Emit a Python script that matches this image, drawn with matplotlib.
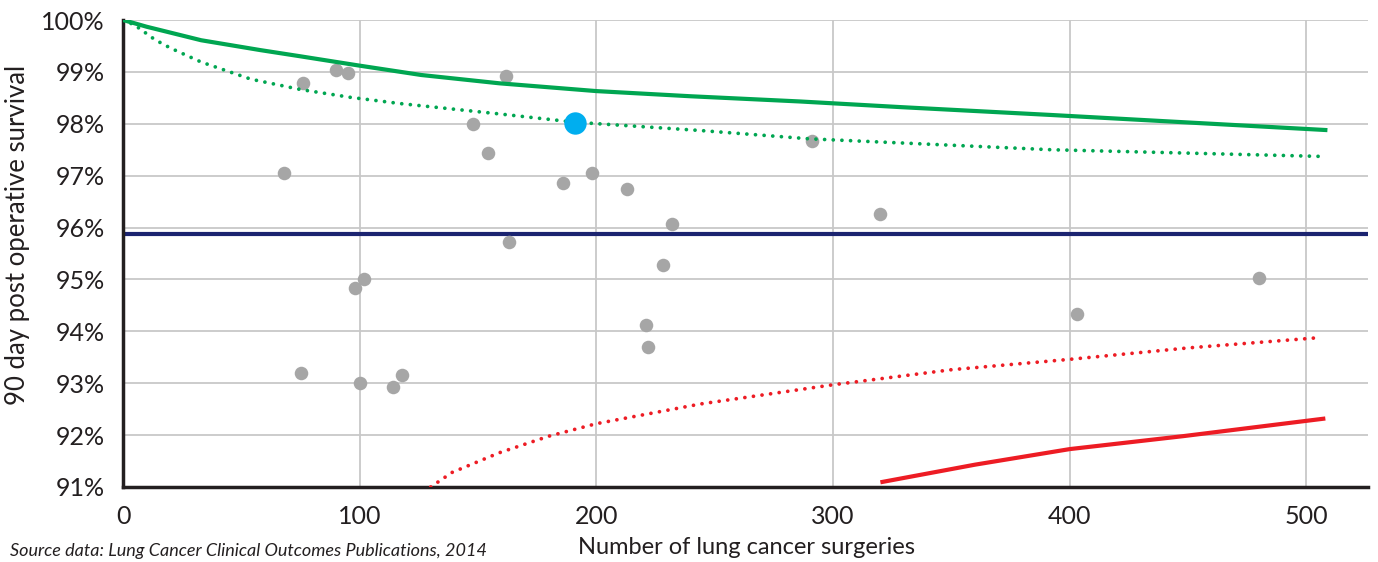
import matplotlib
matplotlib.use("Agg")
import matplotlib.pyplot as plt
from matplotlib.ticker import PercentFormatter

plt.rcParams["font.family"] = ["Lato", "DejaVu Sans"]

# hospitals: number of surgeries vs 90 day survival (%)
surgeries = [68, 76, 90, 95, 75, 98, 102, 100, 114, 118, 148, 154, 162, 163,
             186, 198, 213, 232, 228, 221, 222, 291, 320, 403, 480]
survival = [97.05, 98.78, 99.03, 98.97, 93.2, 94.83, 95.01, 93.0, 92.92, 93.15,
            97.99, 97.44, 98.93, 95.72, 96.86, 97.05, 96.74, 96.07, 95.27, 94.13,
            93.7, 97.67, 96.27, 94.33, 95.02]

# highlighted hospital
hl_surgeries = [191]
hl_survival = [98.02]

national_mean = 95.88

# control limits
upper998_x = [0, 10, 33, 58, 75, 100, 126, 159, 200, 240, 286, 329, 392, 476, 508]
upper998_y = [100, 99.87, 99.61, 99.42, 99.3, 99.12, 98.94, 98.78, 98.63, 98.53,
              98.43, 98.32, 98.17, 97.96, 97.88]

upper95_x = [0, 5, 13.5, 20, 33, 54, 75, 96, 117, 159, 191, 244, 290, 329, 392, 507]
upper95_y = [100, 99.9, 99.62, 99.46, 99.19, 98.86, 98.66, 98.51, 98.39, 98.19, 98.03,
             97.87, 97.71, 97.63, 97.5, 97.37]

lower95_x = [130, 139, 159, 180, 200, 244, 300, 350, 400, 450, 506]
lower95_y = [91.0, 91.28, 91.66, 91.98, 92.22, 92.6, 92.97, 93.26, 93.46, 93.68, 93.88]

lower998_x = [320, 360, 400, 448, 508]
lower998_y = [91.09, 91.43, 91.73, 91.98, 92.32]

green = "#00a651"
red = "#ed1c24"
dark = "#231f20"
dots = (0, (0.01, 2.3))

fig = plt.figure(figsize=(13.78, 5.62), dpi=100)
ax = fig.add_axes([0.0893, 0.1335, 0.9034, 0.8309])

ax.axhline(national_mean, color="#1b2470", lw=3, zorder=2)

ax.scatter(surgeries, survival, s=95, color="#a6a6a6", lw=0, zorder=3)

ax.plot(upper998_x, upper998_y, color=green, lw=3, zorder=4)
ax.plot(upper95_x, upper95_y, color=green, lw=2.7, ls=dots,
        dash_capstyle="round", zorder=4)
ax.plot(lower95_x, lower95_y, color=red, lw=2.7, ls=dots,
        dash_capstyle="round", zorder=4)
ax.plot(lower998_x, lower998_y, color=red, lw=3, zorder=4, solid_capstyle="butt")

ax.scatter(hl_surgeries, hl_survival, s=260, color="#00aeef", lw=0, zorder=5)

ax.set_xlim(0, 526)
ax.set_ylim(91, 100)
ax.set_xticks([0, 100, 200, 300, 400, 500])
ax.set_yticks(range(91, 101))
ax.yaxis.set_major_formatter(PercentFormatter(decimals=0))

ax.grid(True, color="#c8c8c8", lw=1.3, zorder=0)
ax.set_axisbelow(True)
for s in ["top", "right"]:
    ax.spines[s].set_visible(False)
for s in ["left", "bottom"]:
    ax.spines[s].set_color(dark)
    ax.spines[s].set_linewidth(2.5)

ax.tick_params(length=0, labelsize=18, colors=dark)
ax.tick_params(axis="x", pad=13)
ax.tick_params(axis="y", pad=13)

# axis titles placed in figure coords
fig.text(0.542, 0.025, "Number of lung cancer surgeries", fontsize=17,
         color=dark, ha="center", va="center")
fig.text(0.013, 0.582, "90 day post operative survival", fontsize=18.5,
         color=dark, ha="center", va="center", rotation=90)

fig.text(0.007, 0.02, "Source data: Lung Cancer Clinical Outcomes Publications, 2014",
         fontsize=13, style="italic", color=dark, va="center")

fig.savefig("out.png", dpi=100)
